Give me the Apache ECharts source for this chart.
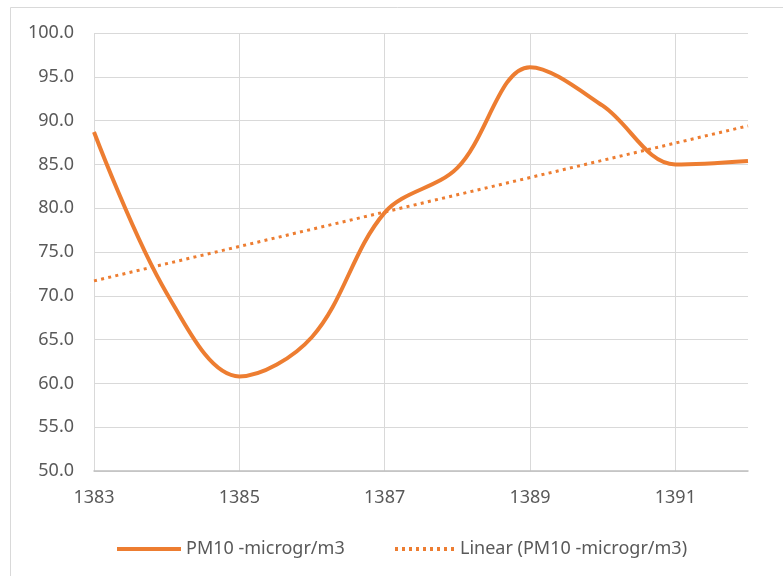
<!DOCTYPE html>
<html>
<head>
<meta charset="utf-8">
<script src="https://cdn.jsdelivr.net/npm/echarts@6/dist/echarts.min.js"></script>
<style>
  html, body { margin: 0; padding: 0; background: #fff; }
  #chart { width: 783px; height: 576px; }
</style>
</head>
<body>
<div id="chart"></div>
<script>
    /*数据源*/
    const years = [1383, 1384, 1385, 1386, 1387, 1388, 1389, 1390, 1391, 1392];
    const pm10 = [88.7, 70.3, 60.8, 65.3, 79.5, 84.6, 96.1, 91.7, 85.0, 85.4];
    // trend line ends
    const trendYears = [1383, 1392];
    const trendValues = [71.7, 89.4];

    const seriesName = 'PM10 -microgr/m3';
    const trendName = 'Linear (PM10 -microgr/m3)';
    const orange = '#ED7D31';
    const grey = '#595959';
    const font = 'Noto Sans';

    // legend icon for the dotted trend line
    let dots = '';
    for (let x = 0; x < 61; x += 7) dots += 'M' + x + ',0h3v4h-3z';

    const chart = echarts.init(document.getElementById('chart'));

    const legendBase = {
        top: 535,
        itemWidth: 64,
        itemHeight: 4,
        textStyle: { fontSize: 18, color: grey, fontFamily: font }
    };

    const option = {
        backgroundColor: '#fff',
        animation: false,
        textStyle: { fontFamily: font },
        graphic: [{
            type: 'rect',
            shape: { x: 10.5, y: 7.5, width: 790, height: 590 },
            style: { fill: 'none', stroke: '#d9d9d9', lineWidth: 1 },
            silent: true
        }],
        grid: { left: 94, top: 33, right: 35, bottom: 105 },
        legend: [
            Object.assign({}, legendBase, {
                left: 112,
                data: [{ name: seriesName, icon: 'path://M0,0h64v4h-64z' }]
            }),
            Object.assign({}, legendBase, {
                left: 390,
                itemWidth: 61,
                data: [{ name: trendName, icon: 'path://' + dots }]
            })
        ],
        xAxis: {
            type: 'value',
            min: 1383,
            max: 1392,
            interval: 2,
            axisLine: { show: true, onZero: false, lineStyle: { color: '#bfbfbf', width: 1.5 } },
            axisTick: { show: false },
            axisLabel: {
                color: grey, fontSize: 18, margin: 18,
                showMaxLabel: false,
                formatter: v => String(v)
            },
            splitLine: { show: true, showMaxLine: false, lineStyle: { color: '#d9d9d9', width: 1 } }
        },
        yAxis: {
            type: 'value',
            min: 50,
            max: 100,
            interval: 5,
            axisLine: { show: false },
            axisTick: { show: false },
            axisLabel: {
                color: grey, fontSize: 18, margin: 20,
                formatter: v => v.toFixed(1)
            },
            splitLine: { lineStyle: { color: '#d9d9d9', width: 1 } }
        },
        series: [
            {
                name: seriesName,
                type: 'line',
                data: years.map((y, i) => [y, pm10[i]]),
                smooth: 0.35,
                showSymbol: false,
                symbol: 'none',
                lineStyle: { color: orange, width: 4 },
                itemStyle: { color: orange },
                z: 3
            },
            {
                name: trendName,
                type: 'line',
                data: trendYears.map((y, i) => [y, trendValues[i]]),
                showSymbol: false,
                symbol: 'none',
                lineStyle: { color: orange, width: 3, type: [3, 4.3] },
                itemStyle: { color: orange },
                z: 2
            }
        ]
    };
    chart.setOption(option);
</script>
</body>
</html>
